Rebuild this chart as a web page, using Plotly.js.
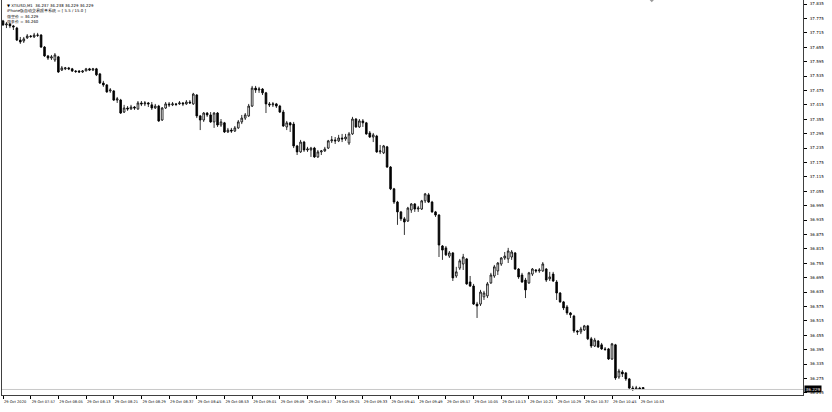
<!DOCTYPE html>
<html><head><meta charset="utf-8">
<script src="https://cdn.plot.ly/plotly-3.0.1.min.js"></script>
<style>html,body{margin:0;padding:0;background:#fff}#chart{width:832px;height:412px}</style>
</head><body><div id="chart"></div>
<script>
const opens=[37.765,37.748,37.752,37.744,37.735,37.685,37.681,37.694,37.702,37.698,
37.706,37.706,37.656,37.619,37.610,37.602,37.615,37.560,37.565,37.569,
37.565,37.556,37.556,37.552,37.556,37.565,37.560,37.565,37.544,37.506,
37.498,37.473,37.473,37.435,37.435,37.385,37.402,37.398,37.406,37.398,
37.423,37.419,37.423,37.415,37.402,37.410,37.352,37.402,37.419,37.415,
37.419,37.419,37.423,37.419,37.427,37.419,37.456,37.369,37.352,37.381,
37.373,37.344,37.381,37.331,37.340,37.302,37.310,37.306,37.319,37.344,
37.360,37.369,37.410,37.485,37.477,37.481,37.465,37.419,37.415,37.419,
37.410,37.385,37.323,37.340,37.335,37.244,37.219,37.260,37.227,37.227,
37.235,37.198,37.219,37.223,37.235,37.265,37.269,37.265,37.277,37.273,
37.256,37.294,37.356,37.323,37.348,37.340,37.298,37.281,37.285,37.219,
37.215,37.240,37.156,37.065,37.010,36.969,36.940,36.931,36.977,37.002,
36.981,36.981,37.015,37.040,37.010,36.969,36.956,36.827,36.819,36.785,
36.798,36.702,36.735,36.752,36.773,36.677,36.660,36.585,36.585,36.615,
36.619,36.673,36.702,36.723,36.752,36.777,36.773,36.781,36.798,36.731,
36.706,36.685,36.673,36.710,36.727,36.723,36.723,36.731,36.690,36.710,
36.677,36.631,36.594,36.573,36.548,36.535,36.473,36.469,36.477,36.494,
36.440,36.410,36.431,36.415,36.398,36.398,36.356,36.415,36.281,36.302,
36.298,36.273,36.235,36.231,36.235,36.237];
const highs=[37.769,37.760,37.756,37.748,37.740,37.698,37.698,37.710,37.706,37.715,
37.715,37.710,37.660,37.623,37.623,37.631,37.619,37.577,37.573,37.573,
37.569,37.560,37.560,37.560,37.569,37.569,37.569,37.569,37.548,37.515,
37.502,37.485,37.477,37.448,37.440,37.415,37.410,37.415,37.410,37.431,
37.431,37.431,37.427,37.427,37.419,37.415,37.406,37.427,37.427,37.427,
37.423,37.431,37.427,37.435,37.435,37.465,37.460,37.373,37.385,37.385,
37.385,37.385,37.385,37.356,37.344,37.319,37.319,37.327,37.352,37.373,
37.381,37.419,37.494,37.494,37.490,37.485,37.469,37.427,37.427,37.423,
37.415,37.394,37.348,37.344,37.344,37.248,37.269,37.265,37.240,37.240,
37.240,37.227,37.227,37.240,37.269,37.285,37.281,37.290,37.294,37.294,
37.302,37.365,37.360,37.356,37.356,37.344,37.306,37.298,37.290,37.248,
37.248,37.244,37.160,37.069,37.015,36.973,36.948,36.990,37.006,37.006,
36.994,37.019,37.048,37.048,37.015,36.973,36.960,36.831,36.827,36.806,
36.802,36.740,36.773,36.794,36.777,36.702,36.669,36.594,36.644,36.640,
36.677,36.715,36.748,36.760,36.781,36.802,36.819,36.810,36.802,36.735,
36.715,36.694,36.719,36.735,36.731,36.735,36.760,36.735,36.719,36.719,
36.685,36.635,36.598,36.581,36.552,36.540,36.477,36.490,36.498,36.498,
36.448,36.444,36.435,36.423,36.406,36.402,36.423,36.419,36.315,36.310,
36.302,36.277,36.244,36.244,36.240,36.238];
const lows=[37.744,37.735,37.735,37.727,37.681,37.669,37.673,37.690,37.694,37.694,
37.698,37.652,37.615,37.602,37.602,37.594,37.548,37.556,37.560,37.560,
37.552,37.548,37.548,37.548,37.556,37.556,37.556,37.535,37.502,37.490,
37.465,37.465,37.431,37.423,37.377,37.381,37.390,37.394,37.394,37.394,
37.410,37.410,37.406,37.394,37.398,37.344,37.348,37.398,37.406,37.410,
37.410,37.415,37.410,37.415,37.419,37.415,37.360,37.310,37.344,37.365,
37.340,37.319,37.323,37.323,37.298,37.298,37.298,37.302,37.315,37.335,
37.352,37.365,37.406,37.465,37.465,37.456,37.381,37.406,37.406,37.402,
37.381,37.323,37.310,37.302,37.235,37.206,37.215,37.219,37.219,37.198,
37.194,37.194,37.206,37.219,37.231,37.256,37.252,37.260,37.260,37.265,
37.248,37.290,37.319,37.319,37.323,37.290,37.277,37.260,37.215,37.210,
37.210,37.152,37.060,37.002,36.915,36.931,36.873,36.927,36.965,36.969,
36.969,36.977,37.006,37.006,36.965,36.948,36.781,36.769,36.785,36.777,
36.681,36.694,36.727,36.727,36.665,36.656,36.581,36.527,36.577,36.602,
36.610,36.669,36.694,36.706,36.744,36.769,36.756,36.769,36.727,36.690,
36.673,36.610,36.669,36.702,36.715,36.715,36.719,36.677,36.681,36.677,
36.602,36.590,36.560,36.540,36.527,36.465,36.456,36.460,36.473,36.435,
36.402,36.406,36.402,36.394,36.390,36.352,36.352,36.269,36.273,36.281,
36.265,36.231,36.223,36.227,36.227,36.229];
const closes=[37.748,37.752,37.744,37.740,37.685,37.677,37.690,37.702,37.700,37.706,
37.705,37.656,37.619,37.610,37.615,37.623,37.552,37.569,37.569,37.565,
37.556,37.554,37.552,37.556,37.565,37.560,37.565,37.540,37.506,37.498,
37.469,37.477,37.435,37.440,37.381,37.402,37.398,37.406,37.402,37.423,
37.419,37.423,37.419,37.402,37.410,37.348,37.402,37.419,37.415,37.419,
37.417,37.423,37.419,37.427,37.423,37.460,37.369,37.352,37.381,37.373,
37.344,37.381,37.331,37.344,37.302,37.310,37.306,37.319,37.344,37.360,
37.373,37.410,37.485,37.477,37.481,37.465,37.419,37.415,37.419,37.410,
37.385,37.327,37.340,37.331,37.244,37.219,37.260,37.227,37.231,37.235,
37.198,37.219,37.223,37.231,37.265,37.269,37.265,37.277,37.273,37.281,
37.294,37.356,37.323,37.348,37.340,37.294,37.281,37.290,37.219,37.223,
37.244,37.156,37.065,37.010,36.969,36.940,36.927,36.985,37.002,36.981,
36.985,37.015,37.044,37.010,36.969,36.956,36.831,36.810,36.790,36.798,
36.694,36.719,36.765,36.781,36.669,36.660,36.585,36.577,36.635,36.631,
36.669,36.706,36.740,36.756,36.777,36.785,36.806,36.802,36.731,36.698,
36.677,36.644,36.715,36.731,36.723,36.727,36.752,36.685,36.698,36.681,
36.631,36.594,36.569,36.548,36.540,36.473,36.469,36.481,36.494,36.440,
36.410,36.435,36.406,36.398,36.396,36.356,36.419,36.277,36.306,36.294,
36.273,36.235,36.231,36.235,36.231,36.229];

const timeTickBars=[0,8,16,24,32,40,48,56,64,72,80,88,96,104,112,120,128,136,144,152,160,168,176,184];
const timeLabels=["29 Oct 2020","29 Oct 07:57","29 Oct 08:05","29 Oct 08:13","29 Oct 08:21","29 Oct 08:29",
"29 Oct 08:37","29 Oct 08:45","29 Oct 08:53","29 Oct 09:01","29 Oct 09:09","29 Oct 09:17",
"29 Oct 09:25","29 Oct 09:33","29 Oct 09:41","29 Oct 09:49","29 Oct 09:57","29 Oct 10:05",
"29 Oct 10:13","29 Oct 10:21","29 Oct 10:29","29 Oct 10:37","29 Oct 10:45","29 Oct 10:53"];
const priceTicks=["37.835","37.775","37.715","37.655","37.595","37.535","37.475","37.415","37.355","37.295",
"37.235","37.175","37.115","37.055","36.995","36.935","36.875","36.815","36.755","36.695",
"36.635","36.575","36.515","36.455","36.395","36.335","36.275","36.215"];
const bidPrice=36.229;
const headerLines=["\u25BC XTIUSD,M1  36.237 36.238 36.229 36.229",
"iPhone版自动交易跟单系统 = [ 5.5 / 15.0 ]",
"做空价 = 36.229",
"做多价 = 36.260"];

const bars=opens.map((_,i)=>i);
const FONT="DejaVu Sans";

const trace={type:'candlestick',x:bars,open:opens,high:highs,low:lows,close:closes,
  increasing:{line:{color:'#000',width:0.8},fillcolor:'#fff'},
  decreasing:{line:{color:'#000',width:0.8},fillcolor:'#000'},
  whiskerwidth:0,hoverinfo:'skip',showlegend:false};

const annotations=headerLines.map((t,k)=>({xref:'paper',yref:'paper',x:0,y:1,xanchor:'left',yanchor:'top',
  xshift:3,yshift:-1-k*5.4,text:t,showarrow:false,font:{family:FONT,size:3.9,color:'#000'}}));
annotations.push({xref:'paper',yref:'y',x:1,y:bidPrice,xanchor:'left',yanchor:'middle',xshift:1,
  text:bidPrice.toFixed(3),showarrow:false,bgcolor:'#000',borderpad:0.5,font:{family:FONT,size:4.2,color:'#fff'}});

const layout={width:832,height:412,margin:{l:2,r:29,t:0,b:17},paper_bgcolor:'#fff',plot_bgcolor:'#fff',
  showlegend:false,
  xaxis:{type:'linear',range:[-0.29,231.2],rangeslider:{visible:false},showgrid:false,zeroline:false,
    tickmode:'array',tickvals:timeTickBars,ticktext:timeLabels,ticks:'outside',ticklen:3,tickcolor:'#000',
    tickangle:0,automargin:false,ticklabelstandoff:3,
    ticklabelposition:'outside right',tickfont:{family:FONT,size:3.6,color:'#000'},
    showline:true,linecolor:'#404040',linewidth:1,mirror:true},
  yaxis:{side:'right',range:[36.206,37.852],showgrid:false,zeroline:false,automargin:false,
    tickmode:'array',tickvals:priceTicks.map(Number),ticktext:priceTicks,ticks:'outside',ticklen:3,tickcolor:'#000',
    ticklabelstandoff:2,tickfont:{family:FONT,size:4.0,color:'#000'},
    showline:true,linecolor:'#404040',linewidth:1,mirror:true},
  shapes:[{type:'line',xref:'paper',yref:'y',x0:0,x1:1,y0:bidPrice,y1:bidPrice,line:{color:'#c8c8c8',width:1}},
    {type:'path',xref:'x',yref:'paper',path:'M 186.9 1 L 188.1 1 L 187.5 0.994 Z',fillcolor:'#999',line:{width:0}}],
  annotations:annotations};

Plotly.newPlot('chart',[trace],layout,{staticPlot:true});
</script></body></html>
